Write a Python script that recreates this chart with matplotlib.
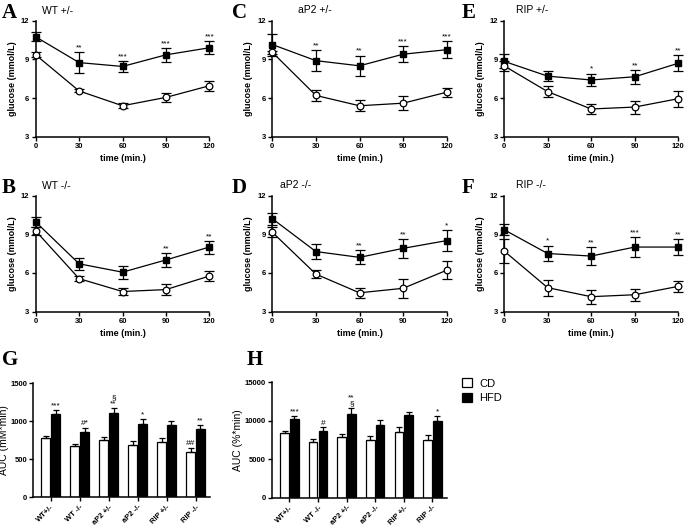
import matplotlib.pyplot as plt
import numpy as np
from matplotlib.patches import Patch

plt.rcParams['font.family'] = ['Liberation Sans', 'DejaVu Sans']

W, H = 685, 530

# tiempos de la curva de glucosa
t = [0, 30, 60, 90, 120]

# paneles A-F: (HFD, err HFD, CD, err CD, asteriscos)
A_hfd = [10.75, 8.75, 8.45, 9.35, 9.9]
A_hfd_err = [0.35, 0.8, 0.45, 0.55, 0.5]
A_cd = [9.35, 6.55, 5.4, 6.05, 6.95]
A_cd_err = [0.2, 0.12, 0.2, 0.32, 0.38]
A_stars = ['', '**', '***', '***', '***']

C_hfd = [10.15, 8.9, 8.5, 9.4, 9.75]
C_hfd_err = [0.85, 0.8, 0.8, 0.6, 0.68]
C_cd = [9.55, 6.2, 5.4, 5.6, 6.45]
C_cd_err = [0.12, 0.42, 0.42, 0.52, 0.35]
C_stars = ['', '**', '**', '***', '***']

E_hfd = [8.85, 7.7, 7.4, 7.65, 8.7]
E_hfd_err = [0.55, 0.4, 0.5, 0.55, 0.62]
E_cd = [8.5, 6.5, 5.15, 5.3, 5.95]
E_cd_err = [0.4, 0.4, 0.42, 0.5, 0.62]
E_stars = ['', '', '*', '**', '**']

B_hfd = [9.95, 6.7, 6.05, 7.0, 8.0]
B_hfd_err = [0.4, 0.45, 0.5, 0.55, 0.5]
B_cd = [9.25, 5.55, 4.55, 4.7, 5.75]
B_cd_err = [0.3, 0.2, 0.28, 0.42, 0.42]
B_stars = ['', '', '', '**', '**']

D_hfd = [10.2, 7.65, 7.2, 7.9, 8.5]
D_hfd_err = [0.45, 0.6, 0.55, 0.72, 0.82]
D_cd = [9.15, 5.9, 4.45, 4.8, 6.2]
D_cd_err = [0.4, 0.3, 0.4, 0.72, 0.68]
D_stars = ['', '', '**', '**', '*']

F_hfd = [9.35, 7.5, 7.3, 8.0, 8.0]
F_hfd_err = [0.45, 0.62, 0.72, 0.78, 0.6]
F_cd = [7.7, 4.85, 4.15, 4.3, 4.95]
F_cd_err = [0.95, 0.62, 0.55, 0.48, 0.45]
F_stars = ['', '*', '**', '***', '**']

# paneles G y H (AUC)
groups = ['WT+/-', 'WT -/-', 'aP2 +/-', 'aP2 -/-', 'RIP +/-', 'RIP -/-']
G_cd = [780, 670, 760, 690, 730, 590]
G_cd_err = [25, 30, 35, 45, 45, 60]
G_hfd = [1100, 865, 1105, 965, 950, 900]
G_hfd_err = [50, 45, 70, 60, 50, 50]
G_cd_marks = ['', '', '', '', '', '##']
G_hfd_marks = ['***', '#*', '§\n**', '*', '', '**']

H_cd = [8450, 7300, 7950, 7500, 8550, 7550]
H_cd_err = [300, 300, 350, 550, 600, 600]
H_hfd = [10250, 8700, 10950, 9500, 10700, 9950]
H_hfd_err = [350, 450, 750, 650, 400, 700]
H_cd_marks = ['', '', '', '', '', '']
H_hfd_marks = ['***', '#', '**\n§', '', '', '*']


def px(l, t_, r, b):
    return [l / W, 1 - b / H, (r - l) / W, (b - t_) / H]


def estilo(ax):
    ax.spines['top'].set_visible(False)
    ax.spines['right'].set_visible(False)
    for s in ['left', 'bottom']:
        ax.spines[s].set_linewidth(1.1)
    ax.tick_params(direction='out', length=3, width=1, pad=1.5, labelsize=5.5)
    for lab in ax.get_xticklabels() + ax.get_yticklabels():
        lab.set_fontweight('bold')


def curva(rect, letra, lpos, titulo, tpos, hfd, hfd_err, cd, cd_err, stars):
    ax = fig.add_axes(px(*rect))
    ax.errorbar(t, hfd, yerr=hfd_err, color='black', marker='s', ms=4.4,
                lw=0.9, elinewidth=0.9, capsize=3.8, capthick=0.9, clip_on=False, zorder=3)
    ax.errorbar(t, cd, yerr=cd_err, color='black', marker='o', ms=4.8,
                mfc='white', mec='black', mew=0.9, lw=0.9, elinewidth=0.9,
                capsize=3.8, capthick=0.9, clip_on=False, zorder=4)
    for x, y, e, s in zip(t, hfd, hfd_err, stars):
        if s:
            ax.annotate(s, (x, y + e), xytext=(0, 0.5), textcoords='offset points',
                        ha='center', va='bottom', fontsize=6)
    ax.set_xlim(0, 120)
    ax.set_ylim(3, 12)
    ax.set_xticks(t)
    ax.set_yticks([3, 6, 9, 12])
    ax.set_xlabel('time (min.)', fontsize=6.5, fontweight='bold', labelpad=3)
    ax.set_ylabel('glucose (mmol/L)', fontsize=6.5, fontweight='bold', labelpad=3)
    estilo(ax)
    fig.text(lpos[0] / W, 1 - lpos[1] / H, letra, fontsize=15, fontweight='bold',
             family='Liberation Serif', ha='left', va='top')
    fig.text(tpos[0] / W, 1 - tpos[1] / H, titulo, fontsize=7.5, ha='left', va='center')
    return ax


def barras(rect, letra, lpos, cd, cd_err, hfd, hfd_err, cd_marks, hfd_marks, ymax, ylabel):
    ax = fig.add_axes(px(*rect))
    x = np.arange(len(groups))
    w = 0.3
    ax.bar(x - 0.17, cd, w, color='white', edgecolor='black', lw=0.9,
           yerr=[np.zeros(len(cd)), cd_err], capsize=2.2,
           error_kw=dict(elinewidth=0.9, capthick=0.9))
    ax.bar(x + 0.17, hfd, w, color='black', edgecolor='black', lw=0.9,
           yerr=[np.zeros(len(hfd)), hfd_err], capsize=2.2,
           error_kw=dict(elinewidth=0.9, capthick=0.9))
    for xi, y, e, s in zip(x - 0.17, cd, cd_err, cd_marks):
        if s:
            ax.annotate(s, (xi, y + e), xytext=(0, 0.5), textcoords='offset points',
                        ha='center', va='bottom', fontsize=6, linespacing=0.8)
    for xi, y, e, s in zip(x + 0.17, hfd, hfd_err, hfd_marks):
        if s:
            ax.annotate(s, (xi, y + e), xytext=(0, 0.5), textcoords='offset points',
                        ha='center', va='bottom', fontsize=6, linespacing=0.8)
    ax.set_xlim(-0.6, 5.5)
    ax.set_ylim(0, ymax)
    ax.set_xticks(x)
    ax.set_xticklabels(groups, rotation=45, ha='right', rotation_mode='anchor')
    ax.set_yticks(np.linspace(0, ymax, 4))
    ax.set_ylabel(ylabel, fontsize=7.5, labelpad=1)
    estilo(ax)
    fig.text(lpos[0] / W, 1 - lpos[1] / H, letra, fontsize=15, fontweight='bold',
             family='Liberation Serif', ha='left', va='top')
    return ax


fig = plt.figure(figsize=(W / 100, H / 100), dpi=100)

curva((35.7, 20.7, 209.3, 136.7), 'A', (2, 3), 'WT +/-', (41.7, 11),
      A_hfd, A_hfd_err, A_cd, A_cd_err, A_stars)
curva((272.3, 20.7, 446.7, 136.7), 'C', (232, 3), 'aP2 +/-', (298, 10),
      C_hfd, C_hfd_err, C_cd, C_cd_err, C_stars)
curva((504, 20.7, 678.3, 136.7), 'E', (462, 3), 'RIP +/-', (516, 10),
      E_hfd, E_hfd_err, E_cd, E_cd_err, E_stars)
curva((35.7, 195.5, 209.3, 311.5), 'B', (2, 178), 'WT -/-', (41.7, 186),
      B_hfd, B_hfd_err, B_cd, B_cd_err, B_stars)
curva((272.3, 195.5, 446.7, 311.5), 'D', (232, 178), 'aP2 -/-', (280, 185),
      D_hfd, D_hfd_err, D_cd, D_cd_err, D_stars)
curva((504, 195.5, 678.3, 311.5), 'F', (462, 178), 'RIP -/-', (516, 185),
      F_hfd, F_hfd_err, F_cd, F_cd_err, F_stars)

barras((33.3, 383.3, 210, 497.3), 'G', (2, 350), G_cd, G_cd_err, G_hfd, G_hfd_err,
       G_cd_marks, G_hfd_marks, 1500, 'AUC (mM*min)')
axH = barras((272.3, 382.3, 446.7, 498), 'H', (247, 350), H_cd, H_cd_err, H_hfd, H_hfd_err,
             H_cd_marks, H_hfd_marks, 15000, 'AUC (%*min)')

handles = [Patch(facecolor='white', edgecolor='black', lw=0.9, label='CD'),
           Patch(facecolor='black', edgecolor='black', lw=0.9, label='HFD')]
fig.legend(handles=handles, loc='upper left', bbox_to_anchor=(460 / W, 1 - 376 / H),
           frameon=False, fontsize=8, handlelength=0.9, handleheight=0.9,
           handletextpad=0.6, labelspacing=0.35, borderaxespad=0, borderpad=0.2)

fig.savefig('out.png', dpi=100)
